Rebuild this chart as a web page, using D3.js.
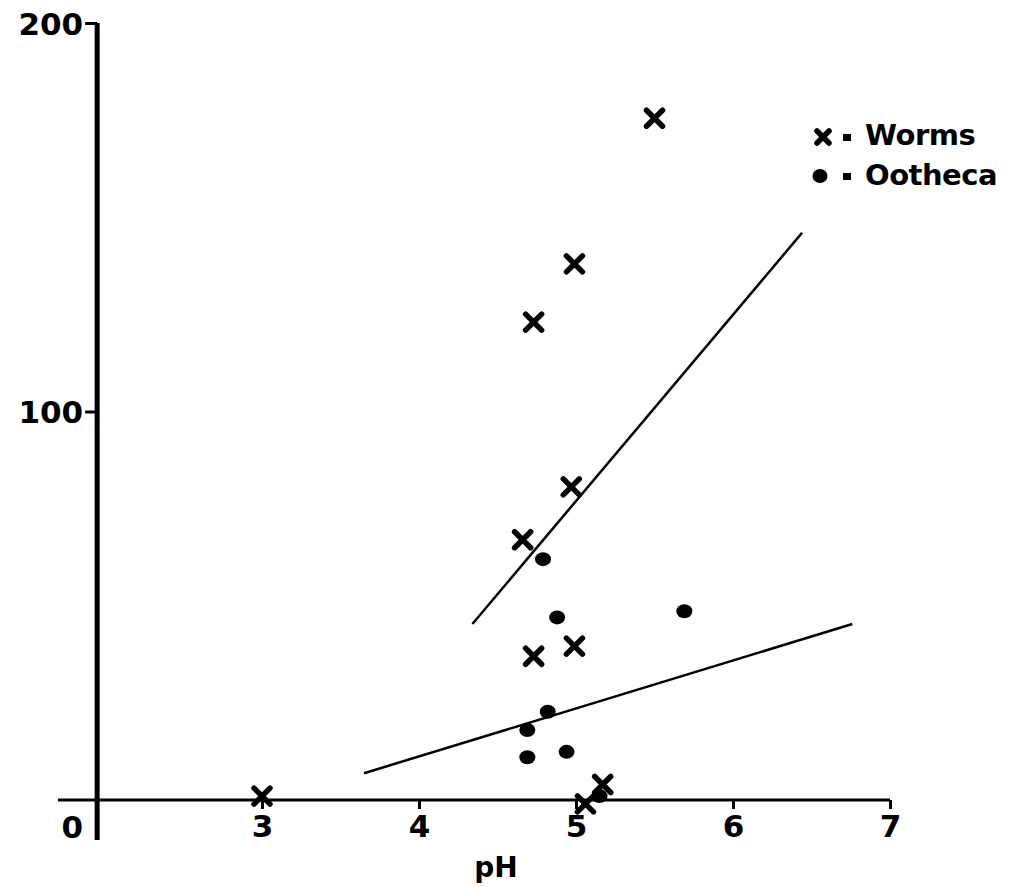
<!DOCTYPE html>
<head>
  <meta charset="utf-8">
  <title>pH scatter</title>
  <script src="https://d3js.org/d3.v7.min.js"></script>
  <style>
    body { margin: 0; background: #fff; }
    text { font-family: "DejaVu Sans", sans-serif; font-weight: bold; fill: #000; }
  </style>
</head>
<body>
  <div id="chart"></div>
  <script>
    // worms (x markers): pH, count
    var wormsPH    = [5.50, 4.99, 4.73, 4.97, 4.66, 4.73, 4.99, 3.00, 5.06, 5.17];
    var wormsVal   = [175.5, 138, 123, 80.6, 67, 37, 39.6, 1, -1, 4];
    // ootheca (filled dots)
    var oothecaPH  = [4.79, 4.88, 5.69, 4.82, 4.69, 4.69, 4.94, 5.15];
    var oothecaVal = [62, 47, 48.6, 22.7, 18, 11, 12.4, 1];
    // fitted lines, end points
    var wormsFitPH    = [4.34, 6.44];
    var wormsFitVal   = [45.3, 146];
    var oothecaFitPH  = [3.65, 6.76];
    var oothecaFitVal = [6.9, 45.3];
    // ticks
    var xTicks = [3, 4, 5, 6, 7];
    var yTicks = [100, 200];
    var legendLabels = ['Worms', 'Ootheca'];

    var width = 1026, height = 887;

    var x = d3.scaleLinear().domain([3, 7]).range([262, 890]);
    var y = d3.scaleLinear().domain([0, 200]).range([800, 23]);

    var svg = d3.select('#chart').append('svg')
      .attr('width', width)
      .attr('height', height);

    var axisX = x(1.95);   // where the y axis sits

    // x axis line
    svg.append('line')
      .attr('x1', x(1.7)).attr('x2', x(7))
      .attr('y1', y(0)).attr('y2', y(0))
      .attr('stroke', '#000').attr('stroke-width', 3);

    var xAxis = d3.axisBottom(x).tickValues(xTicks).tickSize(9).tickPadding(6)
      .tickFormat(d3.format('d'));
    var gx = svg.append('g')
      .attr('transform', 'translate(0,' + y(0) + ')')
      .call(xAxis);
    gx.select('.domain').remove();
    gx.selectAll('line').attr('stroke', '#000').attr('stroke-width', 3);
    gx.selectAll('text').style('font-size', '31px').attr('dy', '0.72em');

    // y axis
    svg.append('line')
      .attr('x1', axisX).attr('x2', axisX)
      .attr('y1', y(200)).attr('y2', y(0) + 40)
      .attr('stroke', '#000').attr('stroke-width', 5);

    var yAxis = d3.axisLeft(y).tickValues(yTicks).tickSize(12).tickPadding(2);
    var gy = svg.append('g')
      .attr('transform', 'translate(' + axisX + ',0)')
      .call(yAxis);
    gy.select('.domain').remove();
    gy.selectAll('line').attr('stroke', '#000').attr('stroke-width', 3);
    gy.selectAll('text').style('font-size', '31px').attr('dy', '0.36em');

    // origin label
    svg.append('text')
      .attr('x', axisX - 14).attr('y', y(0) + 38)
      .attr('text-anchor', 'end')
      .style('font-size', '31px')
      .text('0');

    // axis title
    svg.append('text')
      .attr('x', x(4.49)).attr('y', y(0) + 77)
      .attr('text-anchor', 'middle')
      .style('font-size', '28px')
      .text('pH');

    // fitted lines
    var line = d3.line().x(function (d) { return x(d[0]); }).y(function (d) { return y(d[1]); });
    [[wormsFitPH, wormsFitVal], [oothecaFitPH, oothecaFitVal]].forEach(function (f) {
      svg.append('path')
        .datum(d3.zip(f[0], f[1]))
        .attr('d', line)
        .attr('fill', 'none')
        .attr('stroke', '#000')
        .attr('stroke-width', 2.5);
    });

    // x markers
    function cross(g, cx, cy, s) {
      g.append('path')
        .attr('d', 'M' + (cx - s) + ',' + (cy - s) + 'L' + (cx + s) + ',' + (cy + s) +
                   'M' + (cx - s) + ',' + (cy + s) + 'L' + (cx + s) + ',' + (cy - s))
        .attr('stroke', '#000')
        .attr('stroke-width', 5.5)
        .attr('stroke-linecap', 'round');
    }
    var worms = d3.zip(wormsPH, wormsVal);
    var gw = svg.append('g');
    worms.forEach(function (d) { cross(gw, x(d[0]), y(d[1]), 8); });

    svg.selectAll('ellipse.ooth')
        .data(d3.zip(oothecaPH, oothecaVal))
        .enter()
      .append('ellipse')
        .attr('class', 'ooth')
        .attr('cx', function (d) { return x(d[0]); })
        .attr('cy', function (d) { return y(d[1]); })
        .attr('rx', 8)
        .attr('ry', 7)
        .attr('fill', '#000');

    // legend
    var lg = svg.append('g');
    cross(lg, 823, 137, 6);
    lg.append('ellipse').attr('cx', 820).attr('cy', 176).attr('rx', 7.5).attr('ry', 7).attr('fill', '#000');
    [137, 176].forEach(function (cy) {
      lg.append('rect').attr('x', 843).attr('y', cy - 3).attr('width', 8).attr('height', 7).attr('fill', '#000');
    });
    lg.selectAll('text.leg')
        .data(legendLabels)
        .enter()
      .append('text')
        .attr('class', 'leg')
        .attr('x', 865)
        .attr('y', function (d, i) { return 145 + i * 40; })
        .style('font-size', '29px')
        .style('letter-spacing', '-0.5px')
        .text(function (d) { return d; });
  </script>
</body>
